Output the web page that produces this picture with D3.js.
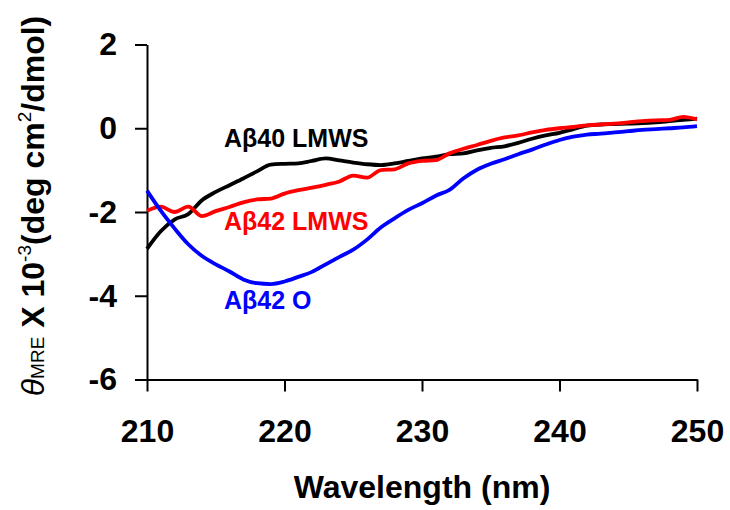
<!DOCTYPE html>
<html>
<head>
<meta charset="utf-8">
<script src="https://cdn.jsdelivr.net/npm/d3@7"></script>
<style>
  body { margin: 0; background: #fff; }
  svg text { font-family: Arial, "Liberation Sans", sans-serif; font-weight: bold; fill: #000; }
</style>
</head>
<body>
<svg class="chart"></svg>
<script>
// wavelength grid (nm)
var wavelength = d3.range(210, 251, 1);

var ab40_lmws = [-2.88, -2.46, -2.18, -2.05, -1.72, -1.52, -1.36, -1.20, -1.03, -0.87,
    -0.85, -0.84, -0.78, -0.72, -0.77, -0.82, -0.86, -0.88, -0.84, -0.78,
    -0.72, -0.68, -0.62, -0.60, -0.53, -0.47, -0.43, -0.35, -0.25, -0.17,
    -0.11, -0.02, 0.06, 0.09, 0.10, 0.11, 0.12, 0.14, 0.17, 0.20, 0.23];

var ab42_lmws = [-1.97, -1.87, -2.00, -1.87, -2.10, -1.98, -1.88, -1.77, -1.70, -1.68,
    -1.56, -1.48, -1.42, -1.35, -1.27, -1.13, -1.18, -1.00, -0.98, -0.84,
    -0.78, -0.76, -0.60, -0.49, -0.40, -0.30, -0.22, -0.17, -0.10, -0.04,
    0.00, 0.03, 0.07, 0.09, 0.11, 0.14, 0.17, 0.19, 0.20, 0.27, 0.21];

var ab42_o = [-1.49, -1.97, -2.39, -2.77, -3.05, -3.25, -3.42, -3.61, -3.70, -3.72,
    -3.66, -3.55, -3.43, -3.25, -3.07, -2.90, -2.66, -2.37, -2.15, -1.95,
    -1.79, -1.61, -1.47, -1.20, -0.99, -0.85, -0.74, -0.62, -0.51, -0.39,
    -0.28, -0.20, -0.15, -0.13, -0.10, -0.07, -0.04, -0.02, 0.00, 0.02, 0.05];

var seriesNames = ["A\u03b240 LMWS", "A\u03b242 LMWS", "A\u03b242 O"];
var seriesColors = ["#000000", "#ff0000", "#0000ff"];
var labelX = [215.6, 215.6, 215.6];
var labelY = [-0.45, -2.43, -4.31];

var xTicks = [210, 220, 230, 240, 250];
var yTicks = [2, 0, -2, -4, -6];

const canvas = {width: 730, height: 510};
const margin = {top: 44.5, bottom: 130.5, right: 33, left: 147};
const chart_dimensions = {
    width: canvas.width - (margin.right + margin.left),
    height: canvas.height - (margin.top + margin.bottom)
};

const svg = d3.select(".chart")
    .attr("width", canvas.width)
    .attr("height", canvas.height);

const x = d3.scaleLinear().domain([210, 250]).range([0, chart_dimensions.width]);
const y = d3.scaleLinear().domain([-6, 2]).range([chart_dimensions.height, 0]);

const chart = svg.append("g")
    .attr("transform", "translate(" + margin.left + "," + margin.top + ")");

// x axis
const xAxisG = chart.append("g")
    .attr("transform", "translate(0," + chart_dimensions.height + ")")
    .call(d3.axisBottom(x).tickValues(xTicks).tickSizeInner(12).tickSizeOuter(0)
        .tickFormat(function (d) { return String(d); }));
xAxisG.selectAll("text")
    .attr("y", 62)
    .attr("dy", 0)
    .style("font-size", "32px");

// y axis
const yAxisG = chart.append("g")
    .call(d3.axisLeft(y).tickValues(yTicks).tickSizeInner(12).tickSizeOuter(0).tickPadding(18)
        .tickFormat(function (d) { return String(d); }));
yAxisG.selectAll("text").style("font-size", "32px");

svg.selectAll(".domain, .tick line")
    .attr("stroke", "#000")
    .attr("stroke-width", 2);

// curves
const seriesValues = [ab40_lmws, ab42_lmws, ab42_o];
const line = d3.line()
    .x(function (d, i) { return x(wavelength[i]); })
    .y(function (d) { return y(d); })
    .curve(d3.curveMonotoneX);

chart.selectAll(".curve")
    .data(seriesValues)
    .enter()
    .append("path")
    .classed("curve", true)
    .attr("d", line)
    .attr("fill", "none")
    .attr("stroke", function (d, i) { return seriesColors[i]; })
    .attr("stroke-width", 3.8)
    .attr("stroke-linejoin", "round");

// series labels
chart.selectAll(".series-label")
    .data(seriesNames)
    .enter()
    .append("text")
    .classed("series-label", true)
    .attr("x", function (d, i) { return x(labelX[i]); })
    .attr("y", function (d, i) { return y(labelY[i]); })
    .style("font-size", "25px")
    .style("fill", function (d, i) { return seriesColors[i]; })
    .text(function (d) { return d; });

// x axis title
svg.append("text")
    .attr("x", 422)
    .attr("y", 498)
    .style("text-anchor", "middle")
    .style("font-size", "32px")
    .text("Wavelength (nm)");

// y axis title
const yTitle = svg.append("text")
    .attr("transform", "translate(44,206) rotate(-90)")
    .style("text-anchor", "middle")
    .style("font-size", "32px");
yTitle.append("tspan").style("font-style", "italic").style("font-weight", "normal").text("\u03b8");
yTitle.append("tspan").style("font-size", "19px").style("font-weight", "normal").text("MRE");
yTitle.append("tspan").text(" X 10");
yTitle.append("tspan").attr("dy", -13).style("font-size", "19px").style("font-weight", "normal").text("-3");
yTitle.append("tspan").attr("dy", 13).text("(deg cm");
yTitle.append("tspan").attr("dy", -13).style("font-size", "19px").style("font-weight", "normal").text("2");
yTitle.append("tspan").attr("dy", 13).text("/dmol)");
</script>
</body>
</html>
